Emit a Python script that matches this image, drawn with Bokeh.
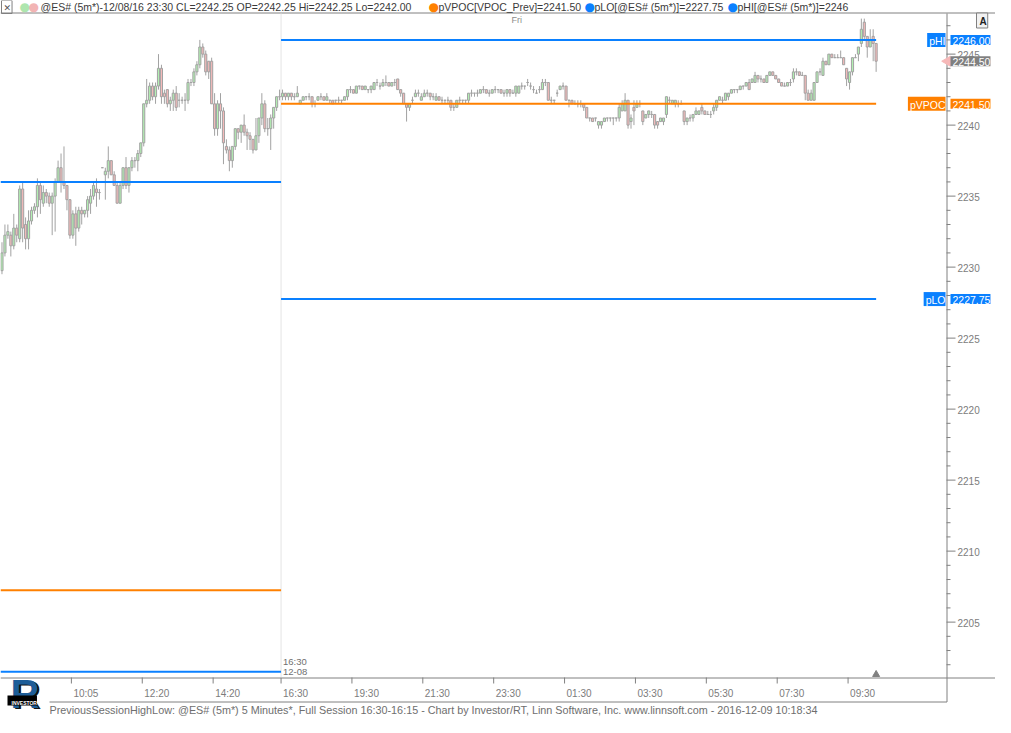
import math
from bokeh.plotting import figure
from bokeh.models import Range1d, Label, ColumnDataSource
from bokeh.embed import file_html
from bokeh.resources import INLINE
from bokeh.core.properties import value

# ---------------- data ----------------
# previous day session (partial, 5-minute bars)
s1_open = [2229.75, 2231.0, 2232.25, 2232.25, 2231.5, 2232.75, 2232.0, 2235.5, 2233.0, 2232.0,
           2233.25, 2234.0, 2234.25, 2235.75, 2234.5, 2235.25, 2235.0, 2234.5, 2235.0, 2236.0,
           2237.0, 2236.0, 2235.75, 2234.75, 2232.25, 2233.75, 2232.75, 2234.0, 2233.75, 2234.0,
           2234.5, 2235.0, 2235.5, 2235.25, 2237.0, 2236.5, 2236.75, 2237.5, 2236.5, 2235.75,
           2234.5, 2235.75, 2237.0, 2235.75, 2237.0, 2237.5, 2237.5, 2238.0, 2238.75, 2241.5,
           2241.75, 2242.75, 2242.0, 2242.75, 2244.0, 2242.25, 2242.5, 2241.5, 2241.75, 2242.25,
           2241.75, 2241.75, 2241.75, 2241.75, 2243.0, 2243.0, 2243.75, 2244.25, 2245.5, 2245.0,
           2244.5, 2244.5, 2241.5, 2239.75, 2241.5, 2241.0, 2238.5, 2238.25, 2237.5, 2238.5,
           2239.75, 2239.5, 2240.0, 2239.5, 2239.25, 2239.0, 2238.25, 2239.25, 2240.5, 2241.5,
           2239.75, 2239.75, 2240.5, 2241.25, 2242.0]
s1_high = [2231.75, 2233.0, 2233.0, 2232.5, 2233.75, 2233.0, 2235.75, 2236.0, 2233.5, 2234.0,
           2234.25, 2234.5, 2236.25, 2236.0, 2235.75, 2235.5, 2235.25, 2235.25, 2236.25, 2237.5,
           2238.0, 2238.5, 2235.75, 2234.75, 2234.0, 2234.25, 2234.25, 2234.25, 2234.0, 2235.0,
           2235.5, 2236.0, 2236.25, 2235.5, 2237.0, 2237.0, 2238.5, 2237.5, 2236.75, 2236.0,
           2236.0, 2237.0, 2237.75, 2237.0, 2237.75, 2237.75, 2238.25, 2238.75, 2241.5, 2243.25,
           2243.0, 2243.0, 2243.0, 2245.0, 2244.25, 2242.5, 2242.5, 2242.0, 2242.5, 2242.75,
           2242.25, 2242.0, 2242.25, 2243.25, 2243.25, 2244.0, 2244.5, 2246.0, 2245.75, 2245.25,
           2244.5, 2244.75, 2242.25, 2241.75, 2242.25, 2241.25, 2239.0, 2238.5, 2238.5, 2239.75,
           2239.75, 2240.0, 2240.75, 2239.75, 2239.5, 2239.0, 2240.5, 2240.5, 2242.25, 2241.75,
           2240.5, 2240.75, 2241.25, 2242.0, 2242.5]
s1_low = [2229.5, 2230.75, 2232.0, 2230.75, 2231.25, 2231.75, 2231.75, 2231.75, 2231.25, 2231.25,
          2233.0, 2233.75, 2233.5, 2233.75, 2234.25, 2234.5, 2234.25, 2232.25, 2232.5, 2236.0,
          2235.25, 2235.5, 2234.0, 2232.0, 2232.0, 2231.5, 2232.5, 2233.0, 2233.5, 2233.5,
          2233.75, 2234.75, 2234.25, 2234.75, 2237.0, 2234.75, 2236.25, 2236.5, 2235.75, 2234.5,
          2234.5, 2235.5, 2235.5, 2235.25, 2236.75, 2237.0, 2236.75, 2237.75, 2238.5, 2241.25,
          2241.5, 2241.75, 2241.5, 2242.5, 2241.5, 2241.5, 2241.25, 2241.0, 2241.0, 2241.0,
          2241.25, 2241.5, 2241.0, 2241.5, 2242.75, 2242.75, 2243.5, 2244.0, 2244.75, 2243.5,
          2243.25, 2241.5, 2239.25, 2239.25, 2239.75, 2237.25, 2238.0, 2236.75, 2237.0, 2238.25,
          2239.0, 2238.75, 2239.25, 2238.25, 2238.25, 2238.0, 2238.25, 2238.75, 2240.0, 2239.5,
          2239.25, 2238.25, 2239.75, 2241.0, 2241.75]
s1_close = [2231.0, 2232.25, 2232.5, 2231.5, 2232.75, 2232.25, 2235.5, 2232.75, 2232.0, 2233.25,
            2234.0, 2234.25, 2235.75, 2234.75, 2235.25, 2235.0, 2234.5, 2235.0, 2236.0, 2237.0,
            2236.0, 2235.75, 2234.75, 2232.25, 2233.75, 2232.75, 2234.0, 2233.75, 2234.0, 2234.75,
            2235.0, 2235.75, 2235.25, 2235.25, 2237.0, 2236.75, 2237.5, 2236.5, 2235.75, 2234.5,
            2235.75, 2237.0, 2235.75, 2237.0, 2237.5, 2237.5, 2238.0, 2238.75, 2241.5, 2241.75,
            2242.75, 2242.0, 2242.75, 2244.0, 2242.0, 2242.0, 2241.5, 2241.75, 2242.25, 2241.25,
            2241.75, 2241.75, 2241.75, 2243.0, 2243.0, 2243.75, 2244.25, 2245.5, 2245.0, 2243.75,
            2243.75, 2241.5, 2239.75, 2241.5, 2241.0, 2238.75, 2238.25, 2237.5, 2238.5, 2239.75,
            2239.5, 2240.0, 2239.5, 2239.25, 2239.0, 2238.25, 2239.25, 2240.5, 2241.5, 2239.75,
            2239.75, 2240.5, 2241.25, 2242.0, 2242.0]

# current full session, 16:30 12-08 onward
s2_open = [2242.0, 2242.25, 2242.0, 2242.25, 2242.0, 2242.0, 2241.5, 2241.75, 2242.0, 2242.0,
           2242.0, 2241.5, 2241.75, 2242.0, 2242.0, 2241.75, 2241.75, 2241.75, 2241.75, 2241.75,
           2241.75, 2241.75, 2242.0, 2242.5, 2242.5, 2242.25, 2242.75, 2242.75, 2242.5, 2242.5,
           2242.5, 2242.5, 2243.0, 2242.75, 2242.75, 2243.0, 2243.0, 2242.75, 2243.0, 2243.25,
           2242.5, 2242.25, 2241.5, 2241.25, 2241.75, 2242.0, 2242.25, 2241.75, 2242.0, 2242.25,
           2242.25, 2242.0, 2241.75, 2242.0, 2241.75, 2241.75, 2241.75, 2241.75, 2241.25, 2241.25,
           2241.75, 2241.75, 2241.75, 2241.75, 2242.25, 2242.25, 2242.25, 2242.25, 2242.5, 2242.5,
           2242.25, 2242.25, 2242.5, 2242.5, 2242.5, 2242.25, 2242.25, 2242.5, 2242.25, 2242.25,
           2242.25, 2242.75, 2242.75, 2243.0, 2242.75, 2242.5, 2242.25, 2242.5, 2242.5, 2243.0,
           2243.0, 2241.75, 2241.75, 2242.25, 2242.5, 2242.75, 2242.75, 2241.75, 2241.75, 2241.5,
           2241.5, 2241.5, 2241.5, 2241.25, 2240.5, 2240.5, 2240.5, 2240.0, 2240.0, 2240.25,
           2240.5, 2240.5, 2240.5, 2240.5, 2240.5, 2241.0, 2241.0, 2241.75, 2240.25, 2241.25,
           2241.25, 2241.5, 2241.0, 2240.5, 2240.75, 2240.75, 2240.75, 2240.25, 2240.25, 2240.25,
           2240.75, 2241.75, 2241.5, 2241.5, 2241.5, 2241.5, 2241.0, 2240.25, 2240.5, 2240.5,
           2240.75, 2240.75, 2241.25, 2241.0, 2240.75, 2240.75, 2241.0, 2241.25, 2241.75, 2241.75,
           2241.75, 2242.0, 2242.25, 2242.5, 2242.5, 2242.5, 2242.75, 2242.75, 2243.0, 2243.0,
           2243.0, 2243.5, 2243.25, 2243.25, 2243.0, 2243.5, 2243.75, 2243.5, 2243.25, 2243.0,
           2242.75, 2242.75, 2243.0, 2243.25, 2243.75, 2243.75, 2243.5, 2243.5, 2242.25, 2241.75,
           2241.75, 2243.0, 2243.75, 2243.5, 2244.5, 2244.25, 2245.0, 2244.75, 2244.75, 2244.75,
           2244.75, 2244.0, 2243.0, 2243.75, 2244.75, 2245.0, 2245.75, 2247.25, 2246.25, 2245.5,
           2246.25, 2245.75]
s2_high = [2242.5, 2242.25, 2242.25, 2242.25, 2242.25, 2242.75, 2241.75, 2242.0, 2242.0, 2242.25,
           2242.0, 2241.75, 2242.0, 2242.25, 2242.0, 2242.25, 2241.75, 2241.75, 2241.75, 2242.0,
           2241.75, 2242.0, 2242.5, 2242.75, 2242.5, 2242.75, 2242.75, 2242.75, 2242.75, 2242.5,
           2242.75, 2243.0, 2243.25, 2243.0, 2243.25, 2243.5, 2243.0, 2243.0, 2243.25, 2243.25,
           2242.5, 2242.25, 2241.5, 2241.5, 2242.0, 2242.5, 2242.5, 2242.25, 2242.5, 2242.5,
           2242.25, 2242.25, 2242.25, 2242.0, 2242.0, 2241.75, 2242.0, 2241.75, 2241.5, 2241.75,
           2242.0, 2241.75, 2241.75, 2242.25, 2242.5, 2242.25, 2242.5, 2242.5, 2242.75, 2242.5,
           2242.5, 2242.5, 2242.75, 2242.5, 2242.5, 2242.5, 2242.5, 2242.5, 2242.5, 2242.75,
           2242.75, 2243.0, 2242.75, 2243.25, 2243.0, 2242.75, 2242.5, 2242.75, 2243.25, 2243.25,
           2243.0, 2242.0, 2241.75, 2242.5, 2242.75, 2243.0, 2242.75, 2241.75, 2241.75, 2241.75,
           2241.75, 2241.75, 2241.5, 2241.25, 2240.5, 2240.5, 2240.5, 2240.25, 2240.25, 2240.5,
           2240.5, 2240.5, 2240.5, 2240.5, 2241.5, 2241.75, 2242.25, 2241.75, 2240.75, 2241.75,
           2241.75, 2241.75, 2241.0, 2240.75, 2241.0, 2241.0, 2240.75, 2240.25, 2240.5, 2240.5,
           2242.0, 2242.0, 2241.75, 2241.75, 2241.75, 2241.75, 2241.0, 2240.5, 2240.75, 2240.75,
           2241.25, 2241.0, 2241.5, 2241.0, 2241.0, 2241.0, 2241.5, 2241.75, 2242.0, 2242.0,
           2242.25, 2242.25, 2242.5, 2242.5, 2242.5, 2242.75, 2242.75, 2243.0, 2243.25, 2243.25,
           2243.75, 2243.5, 2243.5, 2243.25, 2243.5, 2243.75, 2243.75, 2243.5, 2243.25, 2243.0,
           2243.0, 2243.0, 2243.25, 2244.0, 2244.0, 2243.75, 2243.75, 2243.5, 2242.5, 2242.5,
           2243.0, 2243.75, 2244.0, 2244.75, 2244.5, 2245.0, 2245.0, 2245.0, 2245.0, 2245.25,
           2244.75, 2244.0, 2243.75, 2244.75, 2245.0, 2245.5, 2247.5, 2247.5, 2246.25, 2246.75,
           2246.75, 2245.75]
s2_low = [2241.75, 2241.75, 2241.75, 2241.75, 2241.75, 2242.0, 2241.5, 2241.75, 2241.75, 2241.75,
          2241.25, 2241.25, 2241.75, 2241.75, 2241.75, 2241.75, 2241.5, 2241.5, 2241.5, 2241.5,
          2241.5, 2241.75, 2241.75, 2242.25, 2242.25, 2242.25, 2242.5, 2242.5, 2242.5, 2242.25,
          2242.25, 2242.5, 2242.75, 2242.5, 2242.75, 2242.75, 2242.75, 2242.75, 2242.75, 2242.5,
          2242.0, 2241.5, 2240.25, 2241.0, 2241.5, 2242.0, 2242.0, 2241.75, 2242.0, 2242.0,
          2241.75, 2241.75, 2241.75, 2241.75, 2241.5, 2241.5, 2241.5, 2241.0, 2241.0, 2241.25,
          2241.5, 2241.5, 2241.5, 2241.5, 2242.0, 2242.0, 2242.0, 2242.25, 2242.25, 2242.25,
          2242.0, 2242.25, 2242.25, 2242.25, 2242.25, 2242.0, 2242.0, 2242.0, 2242.25, 2242.0,
          2242.25, 2242.5, 2242.5, 2242.75, 2242.5, 2242.25, 2242.25, 2242.25, 2242.5, 2242.75,
          2241.75, 2241.5, 2241.5, 2242.0, 2242.5, 2242.5, 2241.75, 2241.25, 2241.5, 2241.5,
          2241.25, 2241.25, 2241.0, 2240.5, 2240.25, 2240.25, 2240.25, 2239.75, 2239.75, 2240.25,
          2240.25, 2240.25, 2240.0, 2240.25, 2240.25, 2241.0, 2241.0, 2239.75, 2239.75, 2240.0,
          2241.25, 2241.25, 2240.0, 2240.5, 2240.5, 2240.5, 2239.75, 2239.75, 2240.25, 2240.0,
          2240.5, 2241.5, 2241.5, 2241.25, 2241.25, 2241.5, 2240.0, 2240.0, 2240.25, 2240.25,
          2240.75, 2240.75, 2240.75, 2240.75, 2240.75, 2240.5, 2240.75, 2241.0, 2241.75, 2241.5,
          2241.75, 2241.75, 2242.25, 2242.25, 2242.25, 2242.5, 2242.5, 2242.75, 2242.5, 2243.0,
          2243.0, 2243.0, 2243.0, 2243.0, 2243.0, 2243.5, 2243.5, 2243.25, 2243.0, 2242.75,
          2242.75, 2242.75, 2242.75, 2243.0, 2243.5, 2243.5, 2243.5, 2241.75, 2241.75, 2241.75,
          2241.75, 2243.0, 2243.5, 2243.5, 2244.25, 2244.25, 2244.75, 2244.75, 2244.75, 2244.75,
          2244.25, 2242.75, 2242.5, 2243.5, 2244.75, 2244.5, 2245.5, 2246.0, 2244.75, 2245.5,
          2244.5, 2243.75]
s2_close = [2242.25, 2242.0, 2242.25, 2242.0, 2242.0, 2242.25, 2241.75, 2242.0, 2242.0, 2242.0,
            2241.5, 2241.5, 2242.0, 2242.0, 2241.75, 2242.0, 2241.75, 2241.5, 2241.75, 2241.75,
            2241.75, 2242.0, 2242.5, 2242.5, 2242.25, 2242.75, 2242.75, 2242.5, 2242.75, 2242.5,
            2242.75, 2243.0, 2243.0, 2242.75, 2243.0, 2243.0, 2242.75, 2243.0, 2243.0, 2242.5,
            2242.25, 2241.5, 2241.25, 2241.5, 2241.75, 2242.25, 2242.25, 2242.0, 2242.25, 2242.25,
            2242.0, 2242.0, 2242.0, 2241.75, 2241.75, 2241.75, 2241.75, 2241.25, 2241.25, 2241.75,
            2241.75, 2241.75, 2241.75, 2242.25, 2242.25, 2242.25, 2242.25, 2242.5, 2242.5, 2242.25,
            2242.25, 2242.5, 2242.5, 2242.5, 2242.25, 2242.25, 2242.5, 2242.25, 2242.25, 2242.75,
            2242.75, 2242.75, 2242.75, 2243.0, 2242.75, 2242.5, 2242.25, 2242.5, 2243.0, 2243.0,
            2241.75, 2241.75, 2241.75, 2242.25, 2242.75, 2242.75, 2241.75, 2241.75, 2241.5, 2241.5,
            2241.5, 2241.5, 2241.25, 2240.5, 2240.5, 2240.25, 2240.5, 2240.25, 2240.25, 2240.5,
            2240.5, 2240.5, 2240.5, 2240.5, 2241.25, 2241.5, 2241.75, 2240.0, 2240.5, 2241.0,
            2241.5, 2241.5, 2240.25, 2240.75, 2241.0, 2240.75, 2240.0, 2240.0, 2240.5, 2240.5,
            2242.0, 2241.75, 2241.75, 2241.75, 2241.5, 2241.5, 2240.25, 2240.5, 2240.5, 2240.75,
            2241.0, 2241.0, 2241.0, 2240.75, 2240.75, 2240.75, 2241.25, 2241.75, 2242.0, 2241.75,
            2242.25, 2242.25, 2242.5, 2242.5, 2242.5, 2242.75, 2242.75, 2243.0, 2242.5, 2243.25,
            2243.5, 2243.25, 2243.25, 2243.0, 2243.5, 2243.75, 2243.5, 2243.25, 2243.0, 2242.75,
            2242.75, 2243.0, 2243.0, 2243.75, 2243.75, 2243.5, 2243.5, 2242.25, 2241.75, 2242.25,
            2243.0, 2243.75, 2243.75, 2244.5, 2244.25, 2245.0, 2244.75, 2244.75, 2244.75, 2244.75,
            2244.25, 2243.25, 2243.75, 2244.75, 2244.75, 2245.5, 2246.75, 2246.25, 2245.5, 2246.0,
            2245.75, 2244.5]

# previous-session reference levels, one per displayed session
level_pHI = [2236.00, 2246.00]
level_pLO = [2201.50, 2227.75]
level_pVPOC = [2207.25, 2241.50]

# time axis (bar index of each labelled bar)
x_tick_bars = [24, 48, 72, 95, 119, 143, 167, 191, 215, 239, 263, 287]
x_tick_labels = ["10:05", "12:20", "14:20", "16:30", "19:30", "21:30", "23:30",
                 "01:30", "03:30", "05:30", "07:30", "09:30"]
day_label = "Fri"
day_start_bar = 173
session_start_time = "16:30"
session_start_date = "12-08"

y_major = [2205, 2210, 2215, 2220, 2225, 2230, 2235, 2240, 2245]
y_minor = [v for v in range(2202, 2248) if v % 5 != 0]
last_price = 2244.50

header_main = "@ES# (5m*)-12/08/16 23:30 CL=2242.25 OP=2242.25 Hi=2242.25 Lo=2242.00"
header_vpoc = "pVPOC[VPOC_Prev]=2241.50"
header_plo = "pLO[@ES# (5m*)]=2227.75"
header_phi = "pHI[@ES# (5m*)]=2246"
footer_text = ("PreviousSessionHighLow: @ES# (5m*) 5 Minutes*, Full Session 16:30-16:15 - "
               "Chart by Investor/RT, Linn Software, Inc. www.linnsoft.com - 2016-12-09 10:18:34")

# ---------------- layout / style ----------------
W, H = 995, 717
PX_R = 946            # price-panel right edge (axis line), canvas px
PY_T, PY_B = 13, 677  # price-panel top / bottom, canvas px
X_SLOTS = 320.33      # bar slots visible in the price panel
Y_LO, Y_HI = 2201.1, 2247.86
PXB = PX_R / X_SLOTS
PXP = (PY_B - PY_T) / (Y_HI - Y_LO)


def X(px):  # canvas px -> bar coordinate
    return px / PXB


def Y(py):  # canvas px from top -> price coordinate
    return Y_HI - (py - PY_T) / PXP


BLUE = "#0a80ff"
ORANGE = "#ff8000"
GRAY = "#808080"
LGRAY = "#7c7c7c"
EDGE = "#a2a2a2"
UP = "#b2f0b2"
DOWN = "#f4baba"
FONT = "Liberation Sans"

p = figure(width=W, height=H, output_backend="svg", toolbar_location=None,
           x_range=Range1d(0, X(W)), y_range=Range1d(Y(H), Y(0)),
           x_axis_location=None, y_axis_location=None,
           min_border_left=0, min_border_right=0, min_border_top=0, min_border_bottom=0)
p.grid.visible = False
p.outline_line_color = None
p.background_fill_color = "white"
p.border_fill_color = "white"

n1, n2 = len(s1_close), len(s2_close)

# ---- panel frame lines ----
p.segment(x0=[0], x1=[X(W)], y0=[Y(PY_T - 0.5)], y1=[Y(PY_T - 0.5)], line_color=GRAY, line_width=1)
p.segment(x0=[X(PX_R + 0.5)], x1=[X(PX_R + 0.5)], y0=[Y(PY_T)], y1=[Y(PY_B + 24.5)],
          line_color=GRAY, line_width=1)
p.segment(x0=[0], x1=[X(W)], y0=[Y(PY_B + 0.5)], y1=[Y(PY_B + 0.5)], line_color=GRAY, line_width=1)
p.segment(x0=[X(49)], x1=[X(PX_R + 0.5)], y0=[Y(PY_B + 24.5)], y1=[Y(PY_B + 24.5)],
          line_color=GRAY, line_width=1)

# ---- price axis (right) ----
p.segment(x0=[X(PX_R)] * len(y_major), x1=[X(PX_R + 9)] * len(y_major), y0=y_major, y1=y_major,
          line_color=GRAY, line_width=1)
p.segment(x0=[X(PX_R)] * len(y_minor), x1=[X(PX_R + 4)] * len(y_minor), y0=y_minor, y1=y_minor,
          line_color=GRAY, line_width=1)
p.text(x=[X(PX_R + 11)] * len(y_major), y=y_major, text=[str(v) for v in y_major],
       text_font=value(FONT), text_font_size=value("10px"), text_color=LGRAY,
       text_align="left", text_baseline="alphabetic", y_offset=1)

# ---- time axis (bottom) ----
p.segment(x0=x_tick_bars, x1=x_tick_bars, y0=[Y(PY_B)] * len(x_tick_bars),
          y1=[Y(PY_B + 6)] * len(x_tick_bars), line_color=GRAY, line_width=1)
p.text(x=x_tick_bars, y=[Y(PY_B + 16)] * len(x_tick_bars), text=x_tick_labels,
       text_font=value(FONT), text_font_size=value("10px"), text_color=LGRAY,
       text_align="left", text_baseline="middle", x_offset=2)

# ---- session divider ----
p.segment(x0=[n1], x1=[n1], y0=[Y(PY_B)], y1=[Y(PY_T)], line_color="#e4e4e4", line_width=1)

# ---- candles ----
opens = s1_open + s2_open
highs = s1_high + s2_high
lows = s1_low + s2_low
closes = s1_close + s2_close
xs = [i + 0.5 for i in range(n1 + n2)]
src = ColumnDataSource(dict(
    x=xs, high=highs, low=lows,
    top=[max(o, c) for o, c in zip(opens, closes)],
    bottom=[min(o, c) for o, c in zip(opens, closes)],
    fill=[UP if c > o else (DOWN if c < o else EDGE) for o, c in zip(opens, closes)]))
p.segment(x0="x", y0="low", x1="x", y1="high", source=src, line_color=EDGE, line_width=1)
p.vbar(x="x", top="top", bottom="bottom", width=0.72, source=src,
       fill_color="fill", line_color=EDGE, line_width=1)

# ---- previous-session levels ----
sess_x0 = [0, n1]
sess_x1 = [n1, n1 + n2 - 0.5]
p.segment(x0=sess_x0, x1=sess_x1, y0=level_pHI, y1=level_pHI, line_color=BLUE, line_width=2)
p.segment(x0=sess_x0, x1=sess_x1, y0=level_pLO, y1=level_pLO, line_color=BLUE, line_width=2)
p.segment(x0=sess_x0, x1=sess_x1, y0=level_pVPOC, y1=level_pVPOC, line_color=ORANGE, line_width=2)

# current-bar marker and last-price pointer
p.scatter(x=[xs[-1]], y=[Y(PY_B - 3)], marker="triangle", size=7,
          fill_color=GRAY, line_color=GRAY)
p.scatter(x=[X(PX_R + 1)], y=[last_price], marker="triangle", angle=math.pi / 2, size=10,
          fill_color="#f6b8b8", line_color="#f6b8b8")


def lab(text, x, y, xu="screen", yu="screen", size="11px", color="#333333", align="left",
        baseline="middle", font=FONT, style="normal", bg=None, border=None, pad=None, x_offset=0):
    kw = dict(x=x, y=y, x_units=xu, y_units=yu, text=text, text_font_size=size,
              text_color=color, text_align=align, text_baseline=baseline, text_font=font,
              text_font_style=style, x_offset=x_offset)
    if bg is not None:
        kw["background_fill_color"] = bg
    if border is not None:
        kw["border_line_color"] = border
    if pad is not None:
        kw["padding"] = pad
    p.add_layout(Label(**kw))


# price boxes on the right
for val, name, col in [(level_pHI[-1], "pHI", BLUE), (level_pVPOC[-1], "pVPOC", ORANGE),
                       (level_pLO[-1], "pLO", BLUE)]:
    lab(f"{val:.2f}", PX_R + 4, val, yu="data", size="10.5px", color="white", bg=col,
        pad=(2, 0, 2, 0))
    lab(name, PX_R - 1, val, yu="data", size="10.5px", color="white", bg=col, align="right",
        pad=(2, 0, 2, 0))
lab(f"{last_price:.2f}", PX_R + 4, last_price, yu="data", size="10.5px", color="white", bg=GRAY,
    pad=(2, 0, 2, 0))

# "A" button
lab("A", PX_R + 30, H - 20, size="10px", style="bold", color="#222222",
    bg="#f2f2f2", border=GRAY, pad=(3, 1, 3, 1))

# day / session-start labels
lab(day_label, day_start_bar, Y(PY_T + 6), xu="data", yu="data", size="9px", color="#8c8c8c")
lab(session_start_time, n1, Y(PY_B - 16), xu="data", yu="data", size="9.5px", color="#707070",
    x_offset=2)
lab(session_start_date, n1, Y(PY_B - 6), xu="data", yu="data", size="9.5px", color="#707070",
    x_offset=2)

# header
HY = H - 6.5
HFS = "10.5px"
lab("\u2715", 1, HY, size="9px", color="#555555", border=GRAY, pad=(2, 1, 2, 1), font="DejaVu Sans")
lab("\u25cf", 19, HY, size="12px", color="#aee6ae", font="DejaVu Sans")
lab("\u25cf", 28, HY, size="12px", color="#f2b4b4", font="DejaVu Sans")
lab(header_main, 40, HY, size=HFS, color="#3a3a3a")
lab("\u25cf", 428, HY, size="12px", color=ORANGE, font="DejaVu Sans")
lab(header_vpoc, 438, HY, size=HFS, color="#3a3a3a")
lab("\u25cf", 584, HY, size="12px", color=BLUE, font="DejaVu Sans")
lab(header_plo, 594, HY, size=HFS, color="#3a3a3a")
lab("\u25cf", 727, HY, size="12px", color=BLUE, font="DejaVu Sans")
lab(header_phi, 737, HY, size=HFS, color="#3a3a3a")

# footer
lab(footer_text, 49, 8, size="10.8px", color="#6e6e6e")

# logo: shadowed "R" with the black Investor band across it
lab("R", 12, 1, size="40px", style="bold", color="#111111", baseline="bottom")
lab("R", 10, 2, size="40px", style="bold", color="#1d5d98", baseline="bottom")
lab("INVESTOR", 7, 17, size="5px", color="white", bg="black", style="bold", pad=(4, 0, 4, 0))

open("out.html", "w").write(file_html(p, INLINE))
